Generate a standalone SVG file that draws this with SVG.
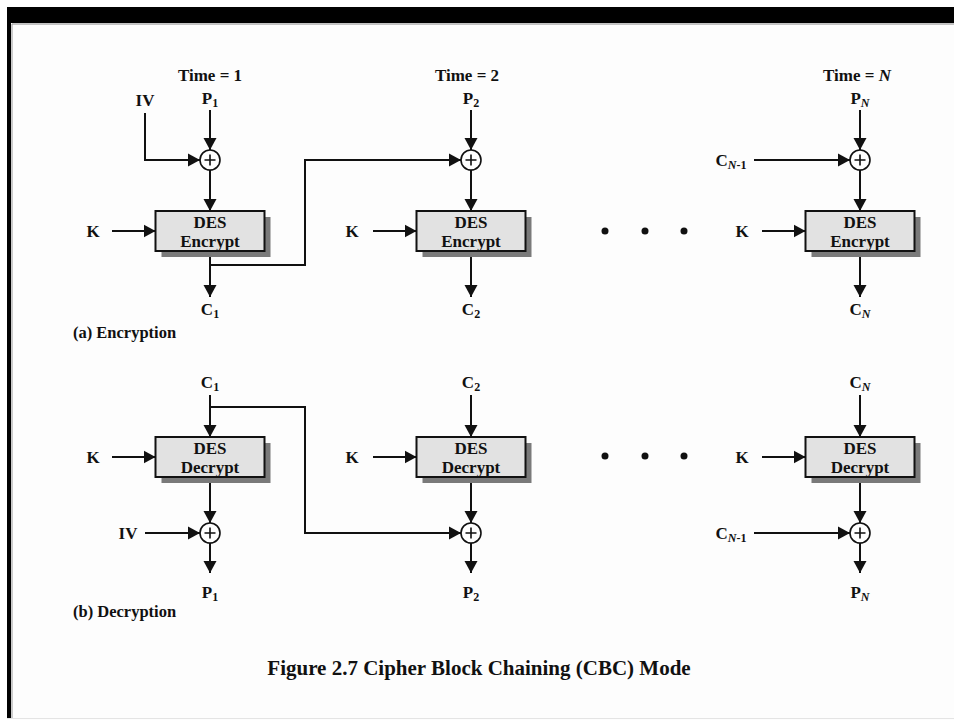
<svg xmlns="http://www.w3.org/2000/svg" width="954" height="720" viewBox="0 0 954 720">
<style>
text{font-family:"Liberation Serif","Times New Roman",serif;font-weight:bold;fill:#111;}
.lbl{font-size:17px;text-anchor:middle;}
.sub{font-size:12px;}
.ln{stroke:#111;stroke-width:2;fill:none;}
.box{fill:#e2e2e2;stroke:#111;stroke-width:2;}
.shd{fill:#7a7a7a;}
.xor{fill:#fff;stroke:#111;stroke-width:1.6;}
.plus{stroke:#111;stroke-width:1.6;}
</style>
<defs>
<marker id="ah" markerUnits="userSpaceOnUse" markerWidth="13" markerHeight="14" refX="12" refY="6.5" orient="auto" viewBox="0 0 13 13">
<path d="M0,0 L12,6.5 L0,13 z" fill="#111"/>
</marker>
</defs>
<rect x="0" y="0" width="954" height="720" fill="#fdfdfd"/>
<rect x="7" y="7" width="947" height="16" fill="#000"/>
<rect x="7" y="7" width="4" height="711" fill="#000"/>
<line x1="12" y1="24" x2="954" y2="24" stroke="#888" stroke-width="1"/>
<line x1="12" y1="24" x2="12" y2="718" stroke="#999" stroke-width="1"/>
<line x1="7" y1="718.5" x2="954" y2="718.5" stroke="#e4e4e4" stroke-width="1"/>

<g id="connectors">
<!-- encryption -->
<line class="ln" x1="210" y1="110" x2="210" y2="150" marker-end="url(#ah)"/>
<line class="ln" x1="471" y1="110" x2="471" y2="150" marker-end="url(#ah)"/>
<line class="ln" x1="860" y1="110" x2="860" y2="150" marker-end="url(#ah)"/>
<polyline class="ln" points="145,113 145,160 200,160" marker-end="url(#ah)"/>
<polyline class="ln" points="210,265 305,265 305,160 461,160" marker-end="url(#ah)"/>
<line class="ln" x1="754" y1="160" x2="850" y2="160" marker-end="url(#ah)"/>
<line class="ln" x1="210" y1="170" x2="210" y2="211" marker-end="url(#ah)"/>
<line class="ln" x1="471" y1="170" x2="471" y2="211" marker-end="url(#ah)"/>
<line class="ln" x1="860" y1="170" x2="860" y2="211" marker-end="url(#ah)"/>
<line class="ln" x1="112" y1="231" x2="155.5" y2="231" marker-end="url(#ah)"/>
<line class="ln" x1="373" y1="231" x2="416.5" y2="231" marker-end="url(#ah)"/>
<line class="ln" x1="762" y1="231" x2="805.5" y2="231" marker-end="url(#ah)"/>
<line class="ln" x1="210" y1="251" x2="210" y2="297" marker-end="url(#ah)"/>
<line class="ln" x1="471" y1="251" x2="471" y2="297" marker-end="url(#ah)"/>
<line class="ln" x1="860" y1="251" x2="860" y2="297" marker-end="url(#ah)"/>
<!-- decryption -->
<line class="ln" x1="210" y1="395" x2="210" y2="437" marker-end="url(#ah)"/>
<line class="ln" x1="471" y1="395" x2="471" y2="437" marker-end="url(#ah)"/>
<line class="ln" x1="860" y1="395" x2="860" y2="437" marker-end="url(#ah)"/>
<polyline class="ln" points="210,407 305,407 305,533 461,533" marker-end="url(#ah)"/>
<line class="ln" x1="112" y1="457" x2="155.5" y2="457" marker-end="url(#ah)"/>
<line class="ln" x1="373" y1="457" x2="416.5" y2="457" marker-end="url(#ah)"/>
<line class="ln" x1="762" y1="457" x2="805.5" y2="457" marker-end="url(#ah)"/>
<line class="ln" x1="210" y1="477" x2="210" y2="523" marker-end="url(#ah)"/>
<line class="ln" x1="471" y1="477" x2="471" y2="523" marker-end="url(#ah)"/>
<line class="ln" x1="860" y1="477" x2="860" y2="523" marker-end="url(#ah)"/>
<line class="ln" x1="145" y1="533" x2="200" y2="533" marker-end="url(#ah)"/>
<line class="ln" x1="754" y1="533" x2="850" y2="533" marker-end="url(#ah)"/>
<line class="ln" x1="210" y1="543" x2="210" y2="573" marker-end="url(#ah)"/>
<line class="ln" x1="471" y1="543" x2="471" y2="573" marker-end="url(#ah)"/>
<line class="ln" x1="860" y1="543" x2="860" y2="573" marker-end="url(#ah)"/>
</g>

<!-- Encryption nodes -->
<g id="enc1">
<rect class="shd" x="161.5" y="217" width="109" height="40"/>
<rect class="box" x="155.5" y="211" width="109" height="40"/>
<text class="lbl" x="210" y="228">DES</text>
<text class="lbl" x="210" y="247">Encrypt</text>
</g>
<g id="enc2">
<rect class="shd" x="422.5" y="217" width="109" height="40"/>
<rect class="box" x="416.5" y="211" width="109" height="40"/>
<text class="lbl" x="471" y="228">DES</text>
<text class="lbl" x="471" y="247">Encrypt</text>
</g>
<g id="encN">
<rect class="shd" x="811.5" y="217" width="109" height="40"/>
<rect class="box" x="805.5" y="211" width="109" height="40"/>
<text class="lbl" x="860" y="228">DES</text>
<text class="lbl" x="860" y="247">Encrypt</text>
</g>
<g id="xorE1"><circle class="xor" cx="210" cy="160" r="10"/><path class="plus" d="M204.5,160H215.5M210,154.5V165.5"/></g>
<g id="xorE2"><circle class="xor" cx="471" cy="160" r="10"/><path class="plus" d="M465.5,160H476.5M471,154.5V165.5"/></g>
<g id="xorEN"><circle class="xor" cx="860" cy="160" r="10"/><path class="plus" d="M854.5,160H865.5M860,154.5V165.5"/></g>

<!-- Decryption nodes -->
<g id="dec1">
<rect class="shd" x="161.5" y="443" width="109" height="40"/>
<rect class="box" x="155.5" y="437" width="109" height="40"/>
<text class="lbl" x="210" y="454">DES</text>
<text class="lbl" x="210" y="473">Decrypt</text>
</g>
<g id="dec2">
<rect class="shd" x="422.5" y="443" width="109" height="40"/>
<rect class="box" x="416.5" y="437" width="109" height="40"/>
<text class="lbl" x="471" y="454">DES</text>
<text class="lbl" x="471" y="473">Decrypt</text>
</g>
<g id="decN">
<rect class="shd" x="811.5" y="443" width="109" height="40"/>
<rect class="box" x="805.5" y="437" width="109" height="40"/>
<text class="lbl" x="860" y="454">DES</text>
<text class="lbl" x="860" y="473">Decrypt</text>
</g>
<g id="xorD1"><circle class="xor" cx="210" cy="533" r="10"/><path class="plus" d="M204.5,533H215.5M210,527.5V538.5"/></g>
<g id="xorD2"><circle class="xor" cx="471" cy="533" r="10"/><path class="plus" d="M465.5,533H476.5M471,527.5V538.5"/></g>
<g id="xorDN"><circle class="xor" cx="860" cy="533" r="10"/><path class="plus" d="M854.5,533H865.5M860,527.5V538.5"/></g>

<!-- labels -->
<g id="labels">
<text class="lbl" x="210" y="81">Time = 1</text>
<text class="lbl" x="467" y="81">Time = 2</text>
<text class="lbl" x="857" y="81">Time = <tspan font-style="italic">N</tspan></text>
<text class="lbl" x="210" y="104">P<tspan class="sub" dy="3">1</tspan></text>
<text class="lbl" x="471" y="104">P<tspan class="sub" dy="3">2</tspan></text>
<text class="lbl" x="860" y="104">P<tspan class="sub" dy="3" font-style="italic">N</tspan></text>
<text class="lbl" x="145" y="106">IV</text>
<text class="lbl" x="731" y="166">C<tspan class="sub" dy="3"><tspan font-style="italic">N</tspan>-1</tspan></text>
<text class="lbl" x="93" y="237">K</text>
<text class="lbl" x="352" y="237">K</text>
<text class="lbl" x="742" y="237">K</text>
<text class="lbl" x="210" y="315">C<tspan class="sub" dy="3">1</tspan></text>
<text class="lbl" x="471" y="315">C<tspan class="sub" dy="3">2</tspan></text>
<text class="lbl" x="860" y="315">C<tspan class="sub" dy="3" font-style="italic">N</tspan></text>
<text x="73" y="338" font-size="16.5">(a) Encryption</text>

<text class="lbl" x="210" y="388">C<tspan class="sub" dy="3">1</tspan></text>
<text class="lbl" x="471" y="388">C<tspan class="sub" dy="3">2</tspan></text>
<text class="lbl" x="860" y="388">C<tspan class="sub" dy="3" font-style="italic">N</tspan></text>
<text class="lbl" x="93" y="463">K</text>
<text class="lbl" x="352" y="463">K</text>
<text class="lbl" x="742" y="463">K</text>
<text class="lbl" x="128" y="539">IV</text>
<text class="lbl" x="731" y="539">C<tspan class="sub" dy="3"><tspan font-style="italic">N</tspan>-1</tspan></text>
<text class="lbl" x="210" y="598">P<tspan class="sub" dy="3">1</tspan></text>
<text class="lbl" x="471" y="598">P<tspan class="sub" dy="3">2</tspan></text>
<text class="lbl" x="860" y="598">P<tspan class="sub" dy="3" font-style="italic">N</tspan></text>
<text x="73" y="617" font-size="16.5">(b) Decryption</text>

<text x="479" y="675" font-size="21" text-anchor="middle">Figure 2.7 Cipher Block Chaining (CBC) Mode</text>
</g>

<g id="dots" fill="#111">
<circle cx="605" cy="231" r="3.5"/><circle cx="645" cy="231" r="3.5"/><circle cx="684" cy="231" r="3.5"/>
<circle cx="605" cy="456" r="3.5"/><circle cx="645" cy="456" r="3.5"/><circle cx="684" cy="456" r="3.5"/>
</g>
</svg>
